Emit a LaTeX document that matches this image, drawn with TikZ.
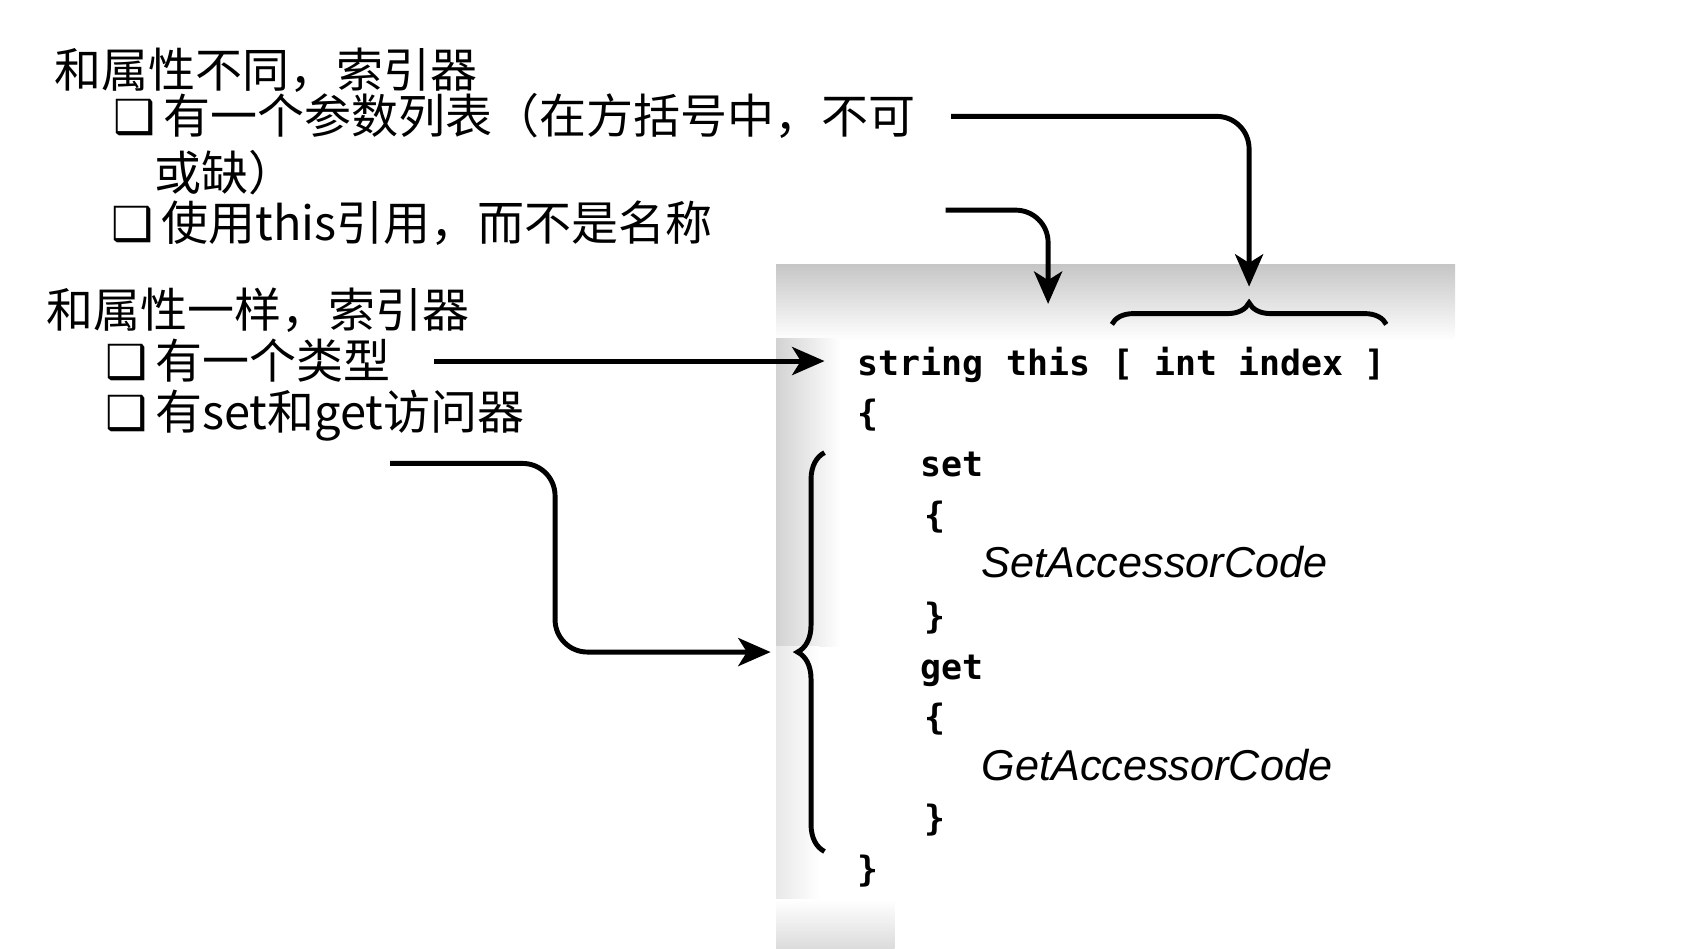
\documentclass[tikz,border=0pt]{standalone}
\usepackage{fontspec}
\usepackage{tikz}
\usetikzlibrary{positioning,arrows.meta,decorations.pathreplacing}
\newfontfamily\cjk{Noto Sans CJK SC}
\newfontfamily\boxfont{DejaVu Sans}
\newfontfamily\codefont{DejaVu Sans Mono}
\newfontfamily\accfont{Liberation Sans}
\newcommand\sqbox{{\boxfont ❑}\,}

\begin{document}
\begin{tikzpicture}[x = 0.01cm, y = -0.01cm,
	note/.style = {anchor=west, inner sep=0, text height=0.85em, text depth=0.15em, font=\cjk\fontsize{12.4}{14}\selectfont},
	code/.style = {anchor=base west, inner sep=0, font=\codefont\bfseries\fontsize{9.2}{11}\selectfont},
	acc/.style = {anchor=base west, inner sep=0, font=\accfont\itshape\fontsize{11.4}{13}\selectfont},
	arr/.style = {line width=1.3pt, rounded corners=3mm, -{Stealth[length=3mm, width=2.6mm, inset=0.8mm]}},
	brc/.style = {line width=1.3pt, decorate, decoration={brace, amplitude=#1}}]
	\useasboundingbox (0,0) rectangle (1568,880);
	\shade[top color=gray!45, bottom color=white] (720,245) rectangle (1350,316);
	\shade[left color=gray!35, right color=white] (720,314) rectangle (780,600);
	\shade[left color=gray!18, right color=white] (720,600) rectangle (760,835);
	\shade[top color=white, bottom color=gray!28] (720,835) rectangle (830,880);
	\node[note] (t1) at (50,69) {和属性不同，索引器};
	\node[note] (t1a) at (105,112) {\sqbox 有一个参数列表（在方括号中，不可};
	\node[note] (t1b) at (143,164) {或缺）};
	\node[note] (t1c) at (103,211) {\sqbox 使用this引用，而不是名称};
	\node[note] (t2) at (42,292) {和属性一样，索引器};
	\node[note] (t2a) at (97,339) {\sqbox 有一个类型};
	\node[note] (t2b) at (97,386) {\sqbox 有set和get访问器};
	\node[code] (cstr) at (795,348) {string};
	\node[code, base right=0.195cm of cstr] (cthis) {this};
	\node[code, base right=0.195cm of cthis] (cidx) {[ int index ]};
	\node[code] (ob) at (795,395) {\{};
	\node[code] (kset) at (853,442) {set};
	\node[code] (sob) at (857,489) {\{};
	\node[acc] (sacc) at (910,536) {SetAccessorCode};
	\node[code] (scb) at (857,583) {\}};
	\node[code] (kget) at (853,630) {get};
	\node[code] (gob) at (857,677) {\{};
	\node[acc] (gacc) at (910,724) {GetAccessorCode};
	\node[code] (gcb) at (857,771) {\}};
	\node[code] (cb) at (795,818) {\}};
	\coordinate (idxtip) at ([yshift=4.2mm]cidx.north);
	\coordinate (typsrc) at ([xshift=4mm, yshift=0.4mm]t2a.east);
	\coordinate (lbtop) at (765,420);
	\coordinate (lbbot) at (765,790);
	\coordinate (lbtip) at (740,605);
	\coordinate (accsrc) at (362,430);
	\coordinate (accbend) at (515,605);
	\draw[brc=2mm] ([yshift=2mm]cidx.north west) -- ([yshift=2mm]cidx.north east);
	\draw[brc=2.5mm] (lbbot) -- (lbtop);
	\draw[arr, shorten >=1.3mm] ([xshift=3.2mm, yshift=0.4mm]t1a.east) -| (idxtip);
	\draw[arr, shorten >=3.9mm] ([xshift=21.5mm, yshift=1.6mm]t1c.east) -| (cthis.north);
	\draw[arr, shorten >=3mm] (typsrc) -- (typsrc -| cstr.west);
	\draw[arr, shorten >=2.5mm] (accsrc) -| (accbend) -- (lbtip);
\end{tikzpicture}
\end{document}
